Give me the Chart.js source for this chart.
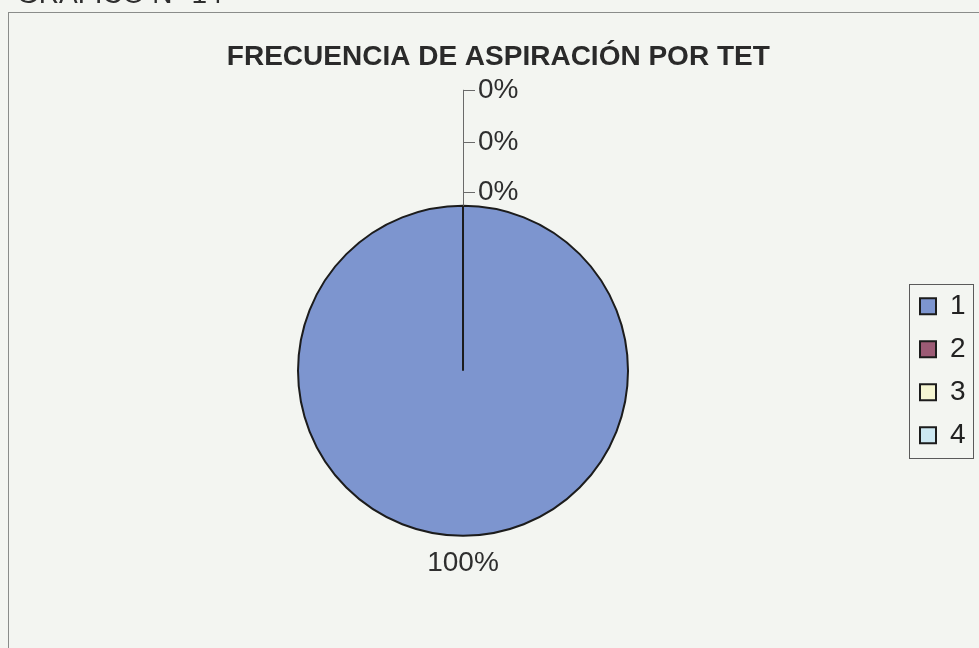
<!DOCTYPE html>
<html>
<head>
<meta charset="utf-8">
<script src="https://cdn.jsdelivr.net/npm/chart.js@4.4.0/dist/chart.umd.min.js"></script>
<style>
    html, body { margin: 0; padding: 0; background: #f3f5f1; }
    #wrap { position: relative; width: 979px; height: 648px; }
</style>
</head>
<body>
<div id="wrap"><canvas id="pie-chart" width="979" height="648"></canvas></div>
<script>
const chartTitle = 'FRECUENCIA DE ASPIRACIÓN POR TET';
const pageHeading = 'GRÁFICO N° 14';
const categories = ['1', '2', '3', '4'];
const percentValues = [100, 0, 0, 0];
const sliceColors = ['#7d95cf', '#9c5b75', '#f6f6d2', '#cde8f2'];

const FONT = '"Liberation Sans", Arial, sans-serif';

// frame of the sheet + the cut off heading above it
const framePlugin = {
    id: 'frame',
    beforeDraw(chart) {
        const c = chart.ctx;
        c.save();
        c.strokeStyle = '#8a8c8a';
        c.lineWidth = 1;
        c.strokeRect(8.5, 12.5, 1000, 700);
        c.fillStyle = '#2e2e2e';
        c.font = '28px ' + FONT;
        c.textBaseline = 'alphabetic';
        c.fillText(pageHeading, 17, 3);
        c.restore();
    }
};

// excel style percent labels, the 0% ones stacked on a leader line
const pctLabelPlugin = {
    id: 'pctLabels',
    afterDatasetsDraw(chart) {
        const c = chart.ctx;
        const arcs = chart.getDatasetMeta(0).data;
        const data = chart.data.datasets[0].data;
        const total = data.reduce((a, b) => a + b, 0);
        const cx = arcs[0].x, cy = arcs[0].y, r = arcs[0].outerRadius;
        const top = cy - r;
        c.save();
        c.font = '28px ' + FONT;
        c.fillStyle = '#2e2e2e';
        c.textBaseline = 'middle';

        let stack = [14, 64, 116];
        let k = 0;
        const zeroYs = [];
        data.forEach((v, i) => {
            const pct = Math.round(v / total * 100) + '%';
            if (v === 0) {
                const y = top - stack[k++];
                zeroYs.push(y);
                c.textAlign = 'left';
                c.fillText(pct, cx + 15, y);
            } else {
                c.textAlign = 'center';
                c.fillText(pct, cx, cy + r + 27);
            }
        });
        if (zeroYs.length) {
            c.strokeStyle = '#6a6a6a';
            c.lineWidth = 1;
            c.beginPath();
            c.moveTo(Math.round(cx) + 0.5, top);
            c.lineTo(Math.round(cx) + 0.5, Math.min(...zeroYs));
            zeroYs.forEach(y => {
                c.moveTo(Math.round(cx) + 0.5, Math.round(y) + 0.5);
                c.lineTo(Math.round(cx) + 12, Math.round(y) + 0.5);
            });
            c.stroke();
        }
        c.restore();
    }
};

// box round the legend
const legendFramePlugin = {
    id: 'legendFrame',
    afterDraw(chart) {
        const lg = chart.legend;
        const hb = lg.legendHitBoxes;
        if (!hb || !hb.length) return;
        const c = chart.ctx;
        const x0 = Math.round(hb[0].left - 11) + 0.5;
        const x1 = Math.round(lg.right - 3) + 0.5;
        const y0 = Math.round(hb[0].top - 8) + 0.5;
        const last = hb[hb.length - 1];
        const y1 = Math.round(last.top + last.height + 9) + 0.5;
        c.save();
        c.strokeStyle = '#5a5a5a';
        c.lineWidth = 1;
        c.strokeRect(x0, y0, x1 - x0, y1 - y0);
        c.restore();
    }
};

const ctx = document.getElementById('pie-chart').getContext('2d');
const pieChart = new Chart(ctx, {
    type: 'pie',
    data: {
        labels: categories,
        datasets: [{
            data: percentValues,
            backgroundColor: sliceColors,
            borderColor: '#1c1c1c',
            borderWidth: 2,
            radius: 165
        }]
    },
    options: {
        responsive: false,
        animation: false,
        layout: {
            padding: { left: 21, right: 3.4, top: 0, bottom: 0 }
        },
        plugins: {
            title: {
                display: true,
                text: chartTitle,
                color: '#2a2a2a',
                font: { family: FONT, size: 28, weight: 'bold' },
                padding: { top: 40, bottom: 20 }
            },
            legend: {
                position: 'right',
                fullSize: false,
                labels: {
                    color: '#222',
                    font: { family: FONT, size: 28 },
                    boxWidth: 16,
                    boxHeight: 16,
                    padding: 15
                }
            },
            tooltip: { enabled: false }
        }
    },
    plugins: [framePlugin, pctLabelPlugin, legendFramePlugin]
});
</script>
</body>
</html>
